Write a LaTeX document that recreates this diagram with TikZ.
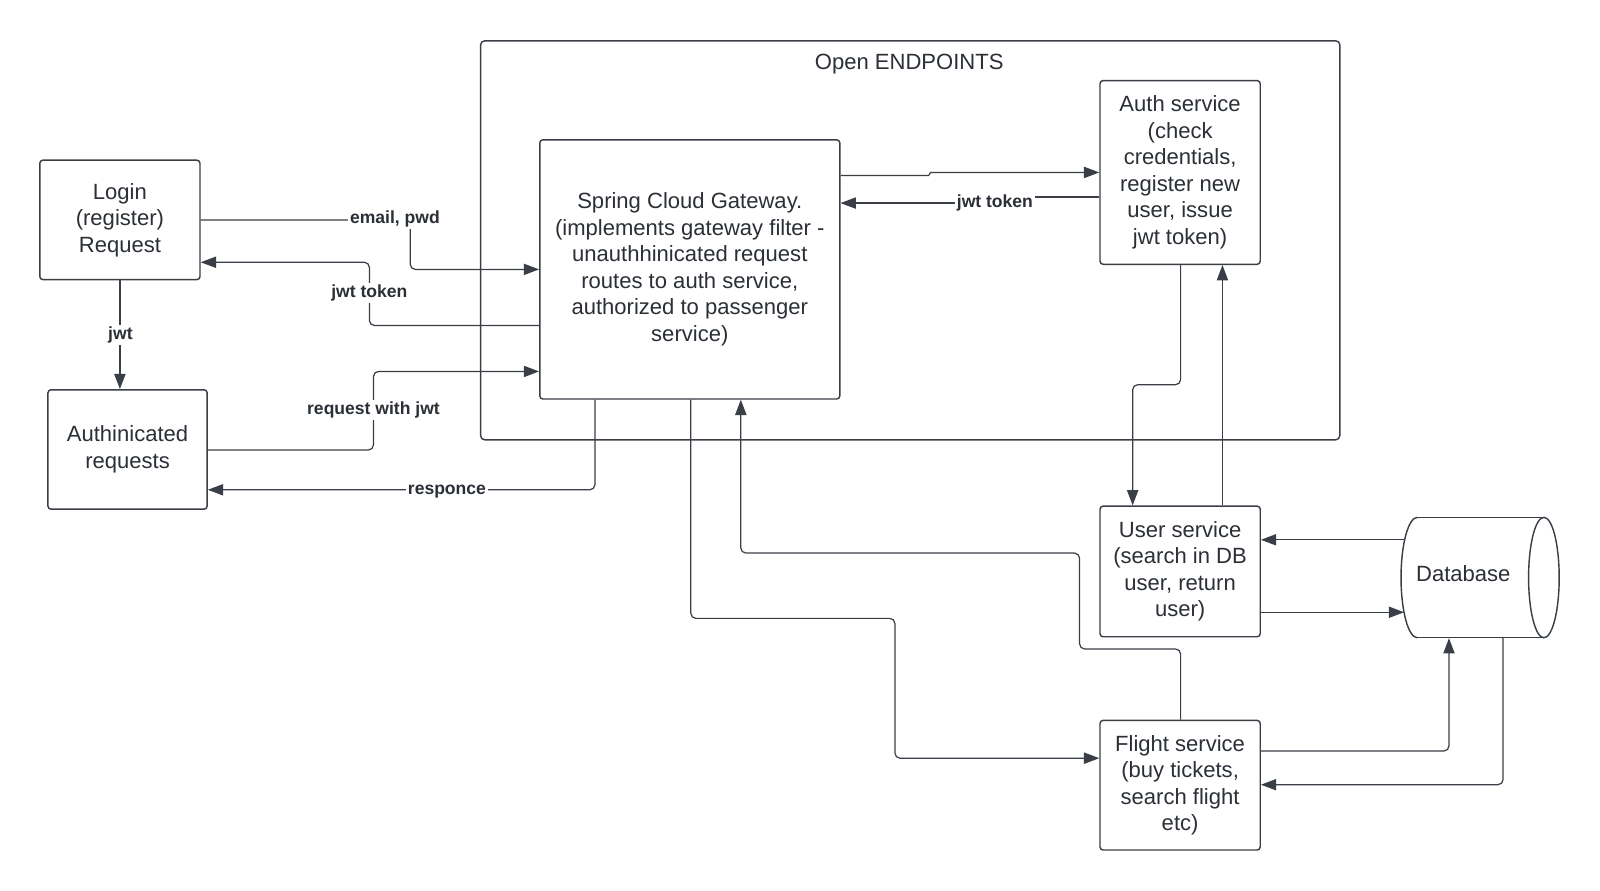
\documentclass[tikz,border=0pt]{standalone}
\usepackage{fontspec}
\setmainfont{Liberation Sans}
\usetikzlibrary{arrows.meta,calc}
\definecolor{ink}{HTML}{3A3F47}
\definecolor{txt}{HTML}{2B2F36}
\tikzset{
  box/.style={draw=ink, line width=0.7pt, rounded corners=1.5pt, align=center, text=txt,
    font=\fontsize{10.8}{13}\selectfont, inner sep=0pt},
  conn/.style={draw=ink, line width=0.6pt, rounded corners=2.5pt},
  arr/.style={conn, -{Triangle[length=7.5pt,width=5.5pt]}},
  lbl/.style={fill=white, text=txt, font=\bfseries\fontsize{8.6}{10}\selectfont, inner sep=0.8pt},
}
\begin{document}
\begin{tikzpicture}[x=0.5pt,y=-0.5pt]
\fill[white] (0,0) rectangle (1568,873);
\useasboundingbox (0,0) rectangle (1568,873);

% container
\node[draw=ink, line width=0.7pt, rounded corners=2pt, minimum width=421pt, minimum height=195.5pt, inner sep=0pt] (cont) at (892,235.5) {};
\node[text=txt, font=\fontsize{10.8}{13}\selectfont] (conttitle) at (891,63) {Open ENDPOINTS};

% boxes
\node[box, minimum width=78.5pt, minimum height=58.5pt] (login) at (117.5,215.5) {Login\\(register)\\Request};
\node[box, minimum width=78pt, minimum height=58.5pt] (authd) at (125,440.5) {Authinicated\\requests};
\node[box, minimum width=147pt, minimum height=127pt] (gw) at (676,264) {Spring Cloud Gateway.\\(implements gateway filter -\\unauthhinicated request\\routes to auth service,\\authorized to passenger\\service)};
\node[box, minimum width=78.5pt, minimum height=90pt] (auth) at (1156.5,169) {Auth service\\(check\\credentials,\\register new\\user, issue\\jwt token)};
\node[box, minimum width=78.5pt, minimum height=64pt] (user) at (1156.5,560) {User service\\(search in DB\\user, return\\user)};
\node[box, minimum width=78.5pt, minimum height=63.5pt] (flight) at (1156.5,769.5) {Flight service\\(buy tickets,\\search flight\\etc)};

% database cylinder
\node[minimum width=77.5pt, minimum height=59pt, inner sep=0pt] (db) at (1450.5,566) {};
\draw[ink, line width=0.7pt] (1389,507) -- (1513,507);
\draw[ink, line width=0.7pt] (1389,625) -- (1513,625);
\draw[ink, line width=0.7pt] (1389,507) arc[start angle=90, end angle=270, x radius=8pt, y radius=29.5pt];
\draw[ink, line width=0.7pt] (1513,566) ellipse[x radius=7.5pt, y radius=29.5pt];
\node[text=txt, font=\fontsize{10.8}{13}\selectfont] (dbtext) at (1434,562) {Database};
\coordinate (dbA) at (1376,529);
\coordinate (dbB) at (1376,600);

% connectors
\draw[arr] (login.east) -- (login.east -| 402,0) -- (402,264) -- (gw.west);
\draw[arr] (gw.west |- 0,319) -- (362,319) -- (362,257) -- (login.east |- 0,257);
\draw[arr, line width=0.9pt] (login.south) -- (login.south |- authd.north);
\draw[arr] (authd.east |- 0,441) -- (366,441) -- (366,364) -- (gw.west |- 0,364);
\draw[arr] (gw.south -| 583,0) -- (583,480) -- (authd.east |- 0,480);
\draw[arr, sharp corners] (gw.east |- 0,172) -- (910,172) -- (912,169) -- (auth.west |- 0,169);
\draw[arr, sharp corners] (auth.west |- 0,193) -- (975,193) -- (975,199) -- (gw.east |- 0,199);
\draw[arr] (auth.south -| 1157,0) -- (1157,377) -- (1110,377) -- (user.north -| 1110,0);
\draw[arr] (user.north -| 1198,0) -- (auth.south -| 1198,0);
\draw[arr] (dbA) -- (user.east |- dbA);
\draw[arr] (user.east |- dbB) -- (dbB);
\draw[arr] (flight.east |- 0,736) -- (1420,736) -- (db.south -| 1420,0);
\draw[arr] (db.south -| 1473,0) -- (1473,769) -- (flight.east |- 0,769);
\draw[arr] (gw.south -| 677,0) -- (677,606) -- (877,606) -- (877,743) -- (flight.west |- 0,743);
\draw[arr] (flight.north -| 1157,0) -- (1157,636) -- (1058,636) -- (1058,542) -- (726,542) -- (gw.south -| 726,0);

% labels
\node[lbl] (l1) at (387,215) {email, pwd};
\node[lbl] (l2) at (362,287) {jwt token};
\node[lbl] (l3) at (118,328) {jwt};
\node[lbl] (l4) at (366,402) {request with jwt};
\node[lbl] (l5) at (438,482) {responce};
\node[lbl] (l6) at (975,199) {jwt token};
\end{tikzpicture}
\end{document}
